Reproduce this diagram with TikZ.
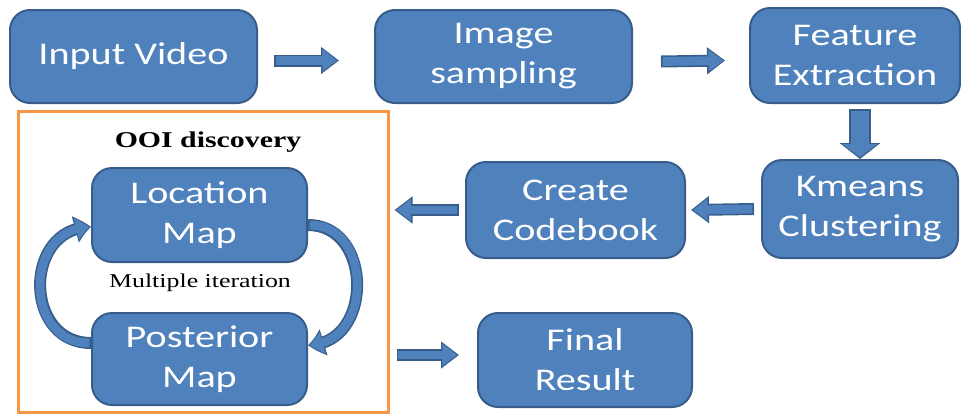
\documentclass[tikz,border=0pt]{standalone}
\usepackage{fontspec}
\setmainfont{Carlito}[FakeStretch=1.27]
\newfontfamily\timesfont{Liberation Serif}[FakeStretch=1.32]
\usetikzlibrary{arrows.meta,bending}

\definecolor{boxblue}{HTML}{4F81BD}
\definecolor{boxedge}{HTML}{385D8A}
\definecolor{ooiorange}{HTML}{F79646}

\tikzset{
  stage/.style={draw=boxedge, line width=1pt, fill=boxblue, rounded corners=10pt,
    text=white, align=center, inner sep=0pt, font=\fontsize{15.8}{20}\selectfont},
  blockarrow/.style={draw=boxedge, line width=6pt, -{Triangle[length=9pt,width=13pt]},
    postaction={draw=boxblue, line width=4.4pt, -{Triangle[length=7.4pt,width=10.6pt]},
      shorten >=0.9pt, shorten <=0.8pt}},
  bigblockarrow/.style={draw=boxedge, line width=11pt, -{Triangle[length=8pt,width=20pt]},
    postaction={draw=boxblue, line width=9.4pt, -{Triangle[length=6.6pt,width=17.4pt]},
      shorten >=0.9pt, shorten <=0.8pt}},
  curvearrow/.style={draw=boxedge, line width=6pt, -{Triangle[length=8pt,width=13pt,bend]},
    postaction={draw=boxblue, line width=4.4pt, -{Triangle[length=6.6pt,width=10.6pt,bend]},
      shorten >=0.8pt, shorten <=0.8pt}}
}

\begin{document}
\begin{tikzpicture}[x=0.5pt,y=0.5pt]
  \useasboundingbox (0,0) rectangle (961,414);

  %% top row
  \node[stage, minimum width=123.5pt, minimum height=46.5pt] (video) at (133.5,357.5) {Input Video};
  \node[stage, minimum width=128.5pt, minimum height=46.5pt] (samp) at (503.5,357.5) {Image\\sampling};
  \node[stage, minimum width=105pt, minimum height=47.5pt] (feat) at (855,358.5) {Feature\\Extraction};

  %% middle row
  \node[stage, minimum width=98pt, minimum height=49pt] (km) at (860,205) {Kmeans\\Clustering};
  \node[stage, minimum width=109.5pt, minimum height=48pt] (cb) at (575.5,204) {Create\\Codebook};

  %% OOI discovery box
  \node[draw=ooiorange, line width=1.5pt, minimum width=185pt, minimum height=150.5pt, inner sep=0pt] (ooi) at (203,152.5) {};
  \node[font=\timesfont\bfseries\fontsize{11.3}{13}\selectfont] (ooititle) at (208,272) {OOI discovery};
  \node[stage, minimum width=107.5pt, minimum height=47pt] (loc) at (199.5,199) {Location\\Map};
  \node[stage, minimum width=107.5pt, minimum height=46pt] (post) at (199.5,55) {Posterior\\Map};
  \node[font=\timesfont\fontsize{9.8}{12}\selectfont] (iter) at (200,131) {Multiple iteration};

  %% bottom row
  \node[stage, minimum width=107pt, minimum height=47pt] (final) at (585,54) {Final\\Result};

  %% arrows
  \coordinate (kmtop) at (km.north |- feat.south);
  \coordinate (ooiin) at (cb.west -| ooi.east);
  \coordinate (ooiout) at ([yshift=2.5pt]final.west -| ooi.east);
  \draw[blockarrow] ([xshift=8pt,yshift=-2pt]video.east) -- ([xshift=-17.5pt,yshift=-2pt]samp.west);
  \draw[blockarrow] ([xshift=14pt,yshift=-2.5pt]samp.east) -- ([xshift=-12pt,yshift=-2.5pt]feat.west);
  \draw[bigblockarrow] ([yshift=-2.5pt]kmtop) -- (km.north);
  \draw[blockarrow] ([xshift=-3.5pt]km.west) -- ([xshift=2.5pt]cb.east);
  \draw[blockarrow] ([xshift=-3pt]cb.west) -- ([xshift=2.5pt]ooiin);
  \draw[blockarrow] ([xshift=3.5pt]ooiout) -- ([xshift=-9pt,yshift=2.5pt]final.west);

  %% iteration loop
  \draw[curvearrow] ([yshift=8pt]post.west) to[out=180,in=180,looseness=1.5] ([yshift=-6pt]loc.west);
  \draw[curvearrow] ([yshift=-5pt]loc.east) to[out=0,in=0,looseness=1.4] ([yshift=7pt]post.east);
\end{tikzpicture}
\end{document}
